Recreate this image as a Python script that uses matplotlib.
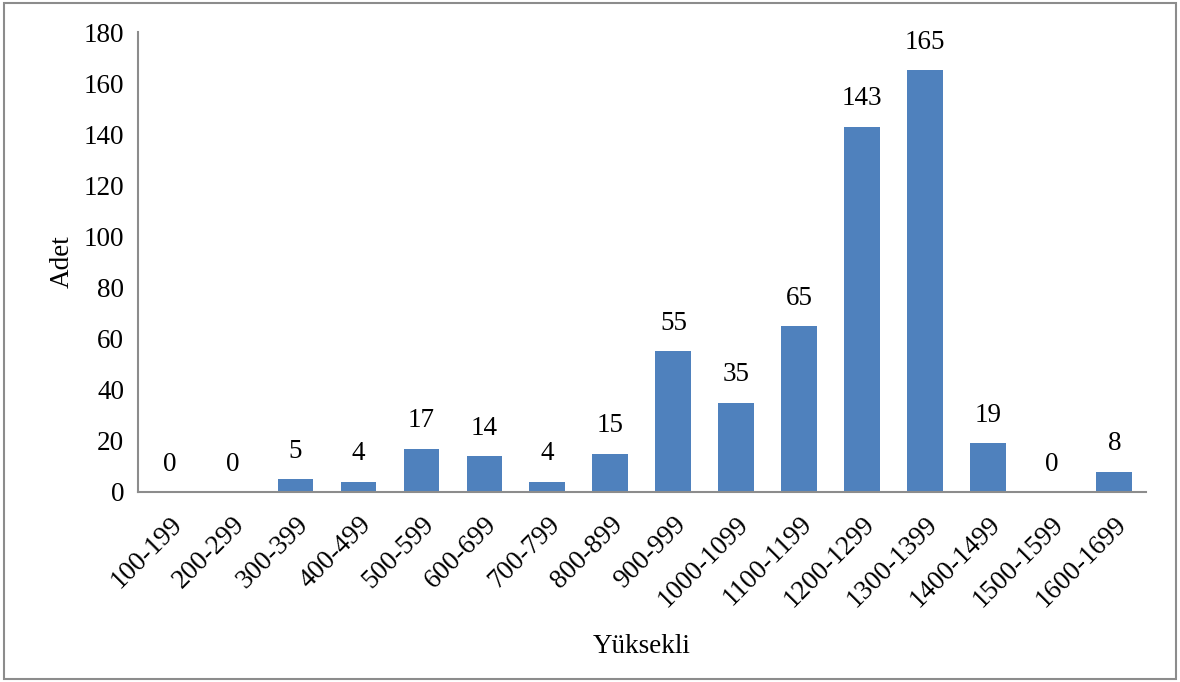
import numpy as np
import matplotlib.pyplot as plt
from matplotlib.patches import Rectangle

categories = ['100-199', '200-299', '300-399', '400-499', '500-599', '600-699',
              '700-799', '800-899', '900-999', '1000-1099', '1100-1199',
              '1200-1299', '1300-1399', '1400-1499', '1500-1599', '1600-1699']
counts = [0, 0, 5, 4, 17, 14, 4, 15, 55, 35, 65, 143, 165, 19, 0, 8]

plt.rcParams['font.family'] = ['Liberation Serif', 'DejaVu Serif']
fs = 19.5

fig = plt.figure(figsize=(11.8, 6.82), dpi=100)
ax = fig.add_axes([0.117, 0.2786, 0.854, 0.6744])

x = np.arange(len(categories))
ax.bar(x, counts, width=0.57, color='#4f81bd', zorder=2)
for xi, c in zip(x, counts):
    ax.text(xi, c + 6, str(c), ha='center', va='bottom', fontsize=fs)

ax.set_xlim(-0.5, len(categories) - 0.5)
ax.set_ylim(0, 180)
ax.set_yticks(range(0, 181, 20))
ax.set_xticks(x)
ax.set_xticklabels(categories, rotation=45, ha='right', rotation_mode='anchor')
ax.tick_params(length=0, labelsize=fs, pad=10)
ax.tick_params(axis='x', pad=14)

for s in ['top', 'right']:
    ax.spines[s].set_visible(False)
for s in ['left', 'bottom']:
    ax.spines[s].set_color('#8c8c8c')
    ax.spines[s].set_linewidth(1.5)

ax.set_ylabel('Adet', fontsize=fs, labelpad=6)
ax.set_xlabel('Yüksekli', fontsize=fs, labelpad=16)

fig.patches.append(Rectangle((0.003, 0.004), 0.994, 0.992, transform=fig.transFigure,
                             fill=False, edgecolor='#8c8c8c', linewidth=1.5))

fig.savefig('out.png', dpi=100)
